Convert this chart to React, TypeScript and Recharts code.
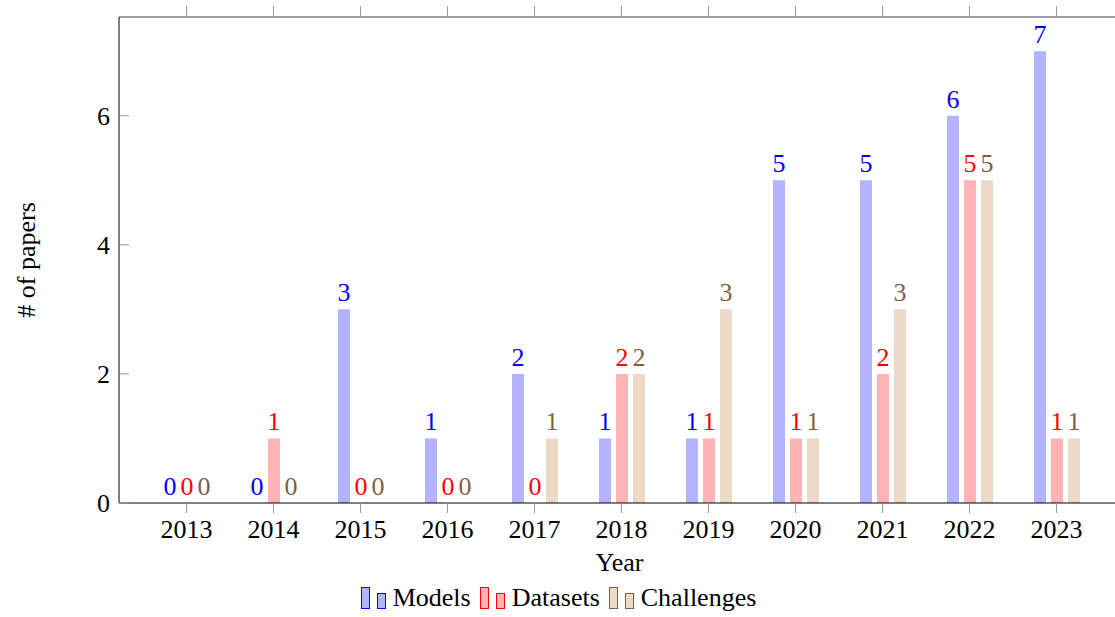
import { BarChart, Bar, XAxis, YAxis, LabelList, Legend } from "recharts";

const years = ["2013", "2014", "2015", "2016", "2017", "2018", "2019", "2020", "2021", "2022", "2023"];
const models = [0, 0, 3, 1, 2, 1, 1, 5, 5, 6, 7];
const datasets = [0, 1, 0, 0, 0, 2, 1, 1, 2, 5, 1];
const challenges = [0, 0, 0, 0, 1, 2, 3, 1, 3, 5, 1];
const yTicks = [0, 2, 4, 6];

const series = [
  { key: "models", name: "Models", fill: "#b3b3ff", text: "#0000ff" },
  { key: "datasets", name: "Datasets", fill: "#ffb3b3", text: "#ff0000" },
  { key: "challenges", name: "Challenges", fill: "#ecd9c6", text: "#7f5f3f" },
];

const data = years.map((year, i) => ({
  year,
  models: models[i],
  datasets: datasets[i],
  challenges: challenges[i],
}));

const FONT = "'Liberation Serif', serif";
const FS = 26;

const LeftTick = (props: any) => {
  const { x, y, payload } = props;
  return (
    <g>
      <line x1={x + 9} x2={x + 19} y1={y} y2={y} stroke="#999" />
      <text x={x} y={y} dy={9} textAnchor="end" fontFamily={FONT} fontSize={FS} fill="#000">
        {payload.value}
      </text>
    </g>
  );
};

const RightTick = (props: any) => {
  const { x, y } = props;
  return <line x1={x - 10} x2={x} y1={y} y2={y} stroke="#999" />;
};

const NoTick = () => <g />;

const LegendContent = () => (
  <div style={{ display: "flex", justifyContent: "center", alignItems: "center", fontFamily: FONT, fontSize: FS, paddingLeft: 4 }}>
    {series.map((s) => (
      <div key={s.key} style={{ display: "flex", alignItems: "center", marginRight: 8 }}>
        <svg width={30} height={26} style={{ marginRight: 3 }}>
          <rect x={1.5} y={2.5} width={8} height={21} fill={s.fill} stroke={s.text} strokeWidth={1} />
          <rect x={17.5} y={8.5} width={8} height={15} fill={s.fill} stroke={s.text} strokeWidth={1} />
        </svg>
        <span>{s.name}</span>
      </div>
    ))}
  </div>
);

export default function App() {
  return (
    <div style={{ position: "absolute", left: 0, top: 0, width: 1115, height: 617, overflow: "hidden", background: "#fff" }}>
      <BarChart
        width={1122}
        height={617}
        data={data}
        margin={{ top: 16, right: 2, left: 0, bottom: 4 }}
        barSize={12}
        barGap={5}
      >
        <XAxis
          xAxisId="b"
          dataKey="year"
          height={80}
          padding={{ left: 24, right: 20 }}
          axisLine={{ stroke: "#000" }}
          tickLine={{ stroke: "#999" }}
          tickSize={10}
          tickMargin={7}
          tick={{ fontFamily: FONT, fontSize: FS, fill: "#000" }}
          label={{ value: "Year", position: "insideBottom", offset: 12, fontFamily: FONT, fontSize: FS, fill: "#000" }}
        />
        <XAxis
          xAxisId="t"
          dataKey="year"
          orientation="top"
          height={1}
          padding={{ left: 24, right: 20 }}
          axisLine={{ stroke: "#444" }}
          tickLine={{ stroke: "#999" }}
          tickSize={11}
          tick={<NoTick />}
        />
        <YAxis
          yAxisId="l"
          width={119}
          domain={[0, 7.53]}
          ticks={yTicks}
          axisLine={{ stroke: "#000" }}
          tickLine={false}
          tickSize={0}
          tickMargin={9}
          tick={<LeftTick />}
          label={{
            content: ({ viewBox }: any) => (
              <text
                x={viewBox.x + 26}
                y={viewBox.y + viewBox.height / 2}
                transform={`rotate(-90, ${viewBox.x + 26}, ${viewBox.y + viewBox.height / 2})`}
                textAnchor="middle"
                dominantBaseline="central"
                fontFamily={FONT}
                fontSize={FS}
                fill="#000"
              >
                # of papers
              </text>
            ),
          }}
        />
        <YAxis
          yAxisId="r"
          orientation="right"
          width={0}
          domain={[0, 7.53]}
          ticks={yTicks}
          axisLine={{ stroke: "#000" }}
          tickLine={false}
          tickSize={0}
          tickMargin={0}
          tick={<RightTick />}
        />
        <Legend verticalAlign="bottom" height={30} content={<LegendContent />} />
        {series.map((s) => (
          <Bar
            key={s.key}
            dataKey={s.key}
            name={s.name}
            xAxisId="b"
            yAxisId="l"
            fill={s.fill}
            minPointSize={0.01}
            isAnimationActive={false}
          >
            <LabelList
              dataKey={s.key}
              position="top"
              offset={8}
              fill={s.text}
              fontFamily={FONT}
              fontSize={FS}
            />
          </Bar>
        ))}
      </BarChart>
    </div>
  );
}
